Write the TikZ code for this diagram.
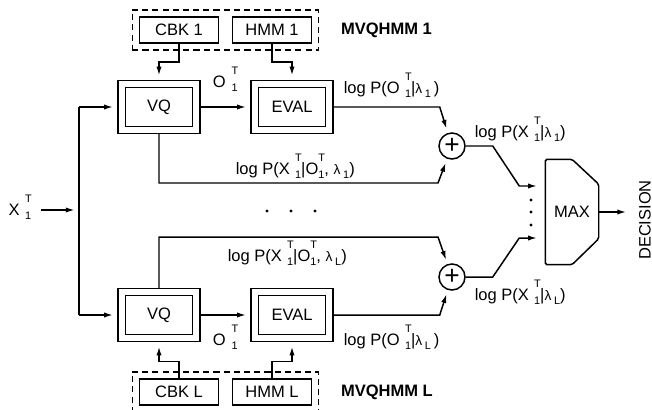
\documentclass[tikz,border=0pt]{standalone}
\usepackage{fontspec}
\setmainfont{Liberation Sans}
\usetikzlibrary{arrows.meta,calc,positioning,fit}
\newcommand{\smallfig}{\fontsize{6.2}{6.2}\selectfont}
\newcommand{\supsub}[2]{\rlap{\raisebox{7.2pt}{\smallfig #1}}\raisebox{-2.8pt}{\smallfig #2}}
\newcommand{\lam}[1]{{\fontsize{7.8}{7.8}\selectfont λ}\,\raisebox{-2.5pt}{\smallfig #1}}

\begin{document}
\begin{tikzpicture}[x=0.02cm,y=-0.02cm,>={Latex[length=5pt,width=3pt]},
  line width=0.85pt,
  every node/.style={font=\fontsize{9.4}{10}\selectfont},
  outerbox/.style={draw,minimum width=1.64cm,minimum height=1.06cm},
  innerbox/.style={draw,minimum width=1.34cm,minimum height=0.78cm},
  store/.style={draw,minimum width=1.58cm,minimum height=0.52cm},
  group/.style={draw,dash pattern=on 3.5pt off 2.3pt,inner sep=0.13cm},
  grouplabel/.style={font=\fontsize{9.4}{10}\selectfont\bfseries},
  summer/.style={draw,circle,minimum size=0.52cm,inner sep=0pt},
  lbl/.style={anchor=base west,inner sep=0pt},
  flow/.style={->,shorten >=2.5pt}]
  \useasboundingbox (0,0) rectangle (652,409);

  \node[outerbox] (vq1) at (159,107) {};
  \node[innerbox] (vq1in) at (vq1) {VQ};
  \node[outerbox] (ev1) at (292,107) {};
  \node[innerbox] (ev1in) at (ev1) {EVAL};
  \node[outerbox] (vq2) at (159,315) {};
  \node[innerbox] (vq2in) at (vq2) {VQ};
  \node[outerbox] (ev2) at (292,315) {};
  \node[innerbox] (ev2in) at (ev2) {EVAL};

  \node[store] (cbk1) at (179,30) {CBK 1};
  \node[store] (hmm1) at (272,30) {HMM 1};
  \node[group,fit=(cbk1)(hmm1)] (grp1) {};
  \node[grouplabel,right=0.3cm of grp1] (name1) {MVQHMM 1};
  \node[store] (cbkL) at (179,392) {CBK L};
  \node[store] (hmmL) at (272,392) {HMM L};
  \node[group,fit=(cbkL)(hmmL)] (grpL) {};
  \node[grouplabel,right=0.3cm of grpL] (nameL) {MVQHMM L};

  \draw[flow] (cbk1.south) |- ($(vq1.north)+(0,-18)$) -- (vq1.north);
  \draw[flow] (hmm1.south) |- ($(ev1.north)+(0,-18)$) -- (ev1.north);
  \draw[flow] (cbkL.north) |- ($(vq2.south)+(0,19)$) -- (vq2.south);
  \draw[flow] (hmmL.north) |- ($(ev2.south)+(0,19)$) -- (ev2.south);
  \draw[flow] (vq1) -- (ev1);
  \draw[flow] (vq2) -- (ev2);

  \node[lbl] (xin) at (8,215) {X\hspace{3pt}\supsub{T}{1}};
  \coordinate (fork) at (79,210);
  \draw[flow,shorten <=5pt] (xin.east |- fork) -- (fork);
  \draw (vq1.west -| fork) -- (vq2.west -| fork);
  \draw[flow] (vq1.west -| fork) -- (vq1.west);
  \draw[flow] (vq2.west -| fork) -- (vq2.west);

  \node[summer] (add1) at (452,146) {\fontsize{15}{15}\selectfont +};
  \node[summer] (add2) at (452,277) {\fontsize{15}{15}\selectfont +};
  \draw[flow] (ev1.east) -- ++(106,0) -- (add1);
  \draw[flow] (vq1.south) |- ($(add1)+(-14,37)$) -- (add1);
  \draw[flow] (vq2.north) |- ($(add2)+(-14,-40)$) -- (add2);
  \draw[flow] (ev2.east) -- ++(106,0) -- (add2);

  \node[minimum width=1.04cm,minimum height=2.08cm] (max) at (572,212) {MAX};
  \draw[rounded corners=1pt] (max.south west) -- (max.north west) -- (max.north)
    -- ($(max.north east)+(0,25)$) -- ($(max.south east)+(0,-26)$) -- (max.south) -- cycle;
  \draw[flow] (add1.east) -- ++(27,0) -- ($(max.west)+(-26,-26)$) -- ($(max.west)+(-4,-26)$);
  \draw[flow] (add2.east) -- ++(27,0) -- ($(max.west)+(-26,26)$) -- ($(max.west)+(-4,26)$);
  \foreach \y in {200,212,225} \fill (531,\y) circle (0.9pt);
  \foreach \x in {267,291,315} \fill (\x,211) circle (0.9pt);

  \node[rotate=90,inner sep=1pt] (dec) at (645,220) {DECISION};
  \draw[flow,shorten >=6pt] (max.east) -- (max.east -| dec.north);

  \node[lbl] (o1) at (212,87) {O\hspace{3.5pt}\supsub{T}{1}};
  \node[lbl] (o2) at (212,345) {O\hspace{3.5pt}\supsub{T}{1}};
  \node[lbl] (pobs1) at (343,93) {log P(O\hspace{3pt}\supsub{T}{1}|\lam{1}\,)};
  \node[lbl] (pobsL) at (343,345) {log P(O\hspace{3pt}\supsub{T}{1}|\lam{L}\,)};
  \node[lbl] (pjoint1) at (474,137) {log P(X\hspace{3pt}\supsub{T}{1}|\lam{1})};
  \node[lbl] (pjointL) at (474,300) {log P(X\hspace{3pt}\supsub{T}{1}|\lam{L})};
  \node[lbl] (pcond1) at (235,174) {log P(X\hspace{3pt}\supsub{T}{1}|O\supsub{T}{1}, \lam{1})};
  \node[lbl] (pcondL) at (227,261) {log P(X\hspace{3pt}\supsub{T}{1}|O\supsub{T}{1}, \lam{L})};
\end{tikzpicture}
\end{document}
